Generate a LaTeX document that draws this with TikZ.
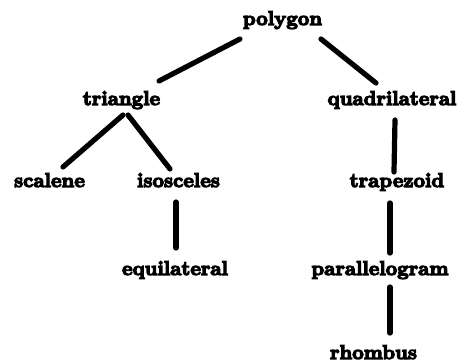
\documentclass[tikz,border=0pt]{standalone}
\usepackage{fontspec}
\newfontfamily\heavyfont{lmroman10-bold.otf}[FakeBold=6]
\begin{document}
\begin{tikzpicture}[x=1pt,y=1pt,
  lbl/.style={anchor=base,inner sep=0pt,font=\heavyfont\fontsize{20}{24}\selectfont},
  edge/.style={line width=5.2pt,line cap=round}]
\useasboundingbox (0,0) rectangle (459,-364);
\node[lbl] (polygon) at (282.5,-25) {polygon};
\node[lbl] (triangle) at (121.5,-105) {triangle};
\node[lbl] (quad) at (392,-105) {quadrilateral};
\node[lbl] (scalene) at (49.5,-187) {scalene};
\node[lbl] (isosceles) at (178.5,-187) {isosceles};
\node[lbl] (trapezoid) at (397,-187) {trapezoid};
\node[lbl] (equilateral) at (175,-275) {equilateral};
\node[lbl] (parallelogram) at (380,-275) {parallelogram};
\node[lbl] (rhombus) at (373.5,-359) {rhombus};
\draw[edge] ([shift={(-42.5,-14)}]polygon.base) -- ([shift={(37.5,24)}]triangle.base);
\draw[edge] ([shift={(38.5,-14)}]polygon.base) -- ([shift={(-16,22)}]quad.base);
\draw[edge] ([shift={(1.5,-10)}]triangle.base) -- ([shift={(13.5,20)}]scalene.base);
\draw[edge] ([shift={(6.5,-10)}]triangle.base) -- ([shift={(-8.5,18)}]isosceles.base);
\draw[edge] ([shift={(3,-15)}]quad.base) -- ([shift={(-3,15)}]trapezoid.base);
\draw[edge] ([shift={(-2.5,-15)}]isosceles.base) -- ([shift={(1,27)}]equilateral.base);
\draw[edge] ([shift={(-7,-16)}]trapezoid.base) -- ([shift={(10,22)}]parallelogram.base);
\draw[edge] ([shift={(10,-12)}]parallelogram.base) -- ([shift={(16.5,26)}]rhombus.base);
\end{tikzpicture}
\end{document}
